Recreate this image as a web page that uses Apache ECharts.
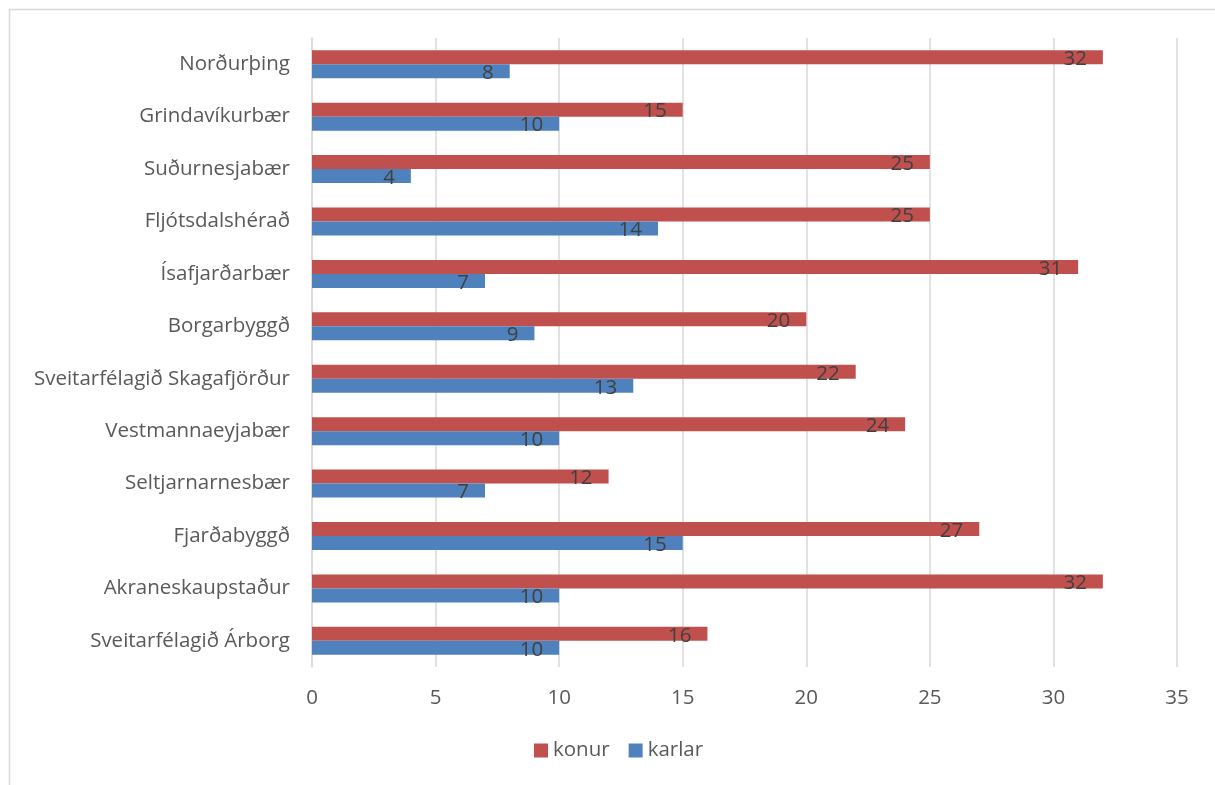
<!DOCTYPE html>
<html>
<head>
<meta charset="utf-8">
<script src="https://cdn.jsdelivr.net/npm/echarts@6/dist/echarts.min.js"></script>
<style>
  html, body { margin: 0; padding: 0; background: #ffffff; }
  #chart { width: 1215px; height: 785px; }
</style>
</head>
<body>
<div id="chart"></div>
<script>
// Municipalities, listed from the bottom of the axis upwards
const categories = [
  'Sveitarfélagið Árborg',
  'Akraneskaupstaður',
  'Fjarðabyggð',
  'Seltjarnarnesbær',
  'Vestmannaeyjabær',
  'Sveitarfélagið Skagafjörður',
  'Borgarbyggð',
  'Ísafjarðarbær',
  'Fljótsdalshérað',
  'Suðurnesjabær',
  'Grindavíkurbær',
  'Norðurþing'
];
const konur = [16, 32, 27, 12, 24, 22, 20, 31, 25, 25, 15, 32];
const karlar = [10, 10, 15, 7, 10, 13, 9, 7, 14, 4, 10, 8];
const xTicks = [0, 5, 10, 15, 20, 25, 30, 35];

const FONT = '"Open Sans", "Noto Sans", sans-serif';
const RED = '#C0504D';
const BLUE = '#4F81BD';

const valueLabel = {
  show: true,
  position: 'insideRight',
  distance: 16,
  offset: [0, 2],
  color: '#404040',
  fontFamily: FONT,
  fontSize: 20.5
};

const chart = echarts.init(document.getElementById('chart'), null, { renderer: 'canvas' });
chart.setOption({
  animation: false,
  backgroundColor: '#ffffff',
  graphic: [{
    type: 'rect',
    shape: { x: 9.5, y: 9.5, width: 1230, height: 800 },
    style: { fill: 'none', stroke: '#d9d9d9', lineWidth: 1.5 },
    silent: true
  }],
  grid: { left: 312, right: 38, top: 38, bottom: 118, containLabel: false },
  legend: {
    bottom: 19,
    left: 529,
    itemWidth: 14,
    itemHeight: 14,
    itemGap: 19,
    icon: 'rect',
    data: ['konur', 'karlar'],
    textStyle: { color: '#595959', fontFamily: FONT, fontSize: 20.5 }
  },
  xAxis: {
    type: 'value',
    min: xTicks[0],
    max: xTicks[xTicks.length - 1],
    interval: 5,
    axisLine: { show: false },
    axisTick: { show: false },
    splitLine: { show: true, lineStyle: { color: '#d9d9d9', width: 1.5 } },
    axisLabel: { color: '#595959', fontFamily: FONT, fontSize: 20.5, margin: 21 }
  },
  yAxis: {
    type: 'category',
    data: categories,
    axisLine: { show: true, lineStyle: { color: '#d9d9d9', width: 1.5 } },
    axisTick: { show: false },
    axisLabel: { color: '#595959', fontFamily: FONT, fontSize: 20.5, margin: 22 }
  },
  series: [
    {
      name: 'konur',
      type: 'bar',
      data: konur,
      barWidth: 14,
      barGap: '0%',
      itemStyle: { color: RED },
      label: valueLabel
    },
    {
      name: 'karlar',
      type: 'bar',
      data: karlar,
      barWidth: 14,
      barGap: '0%',
      itemStyle: { color: BLUE },
      label: valueLabel
    }
  ]
});
</script>
</body>
</html>
